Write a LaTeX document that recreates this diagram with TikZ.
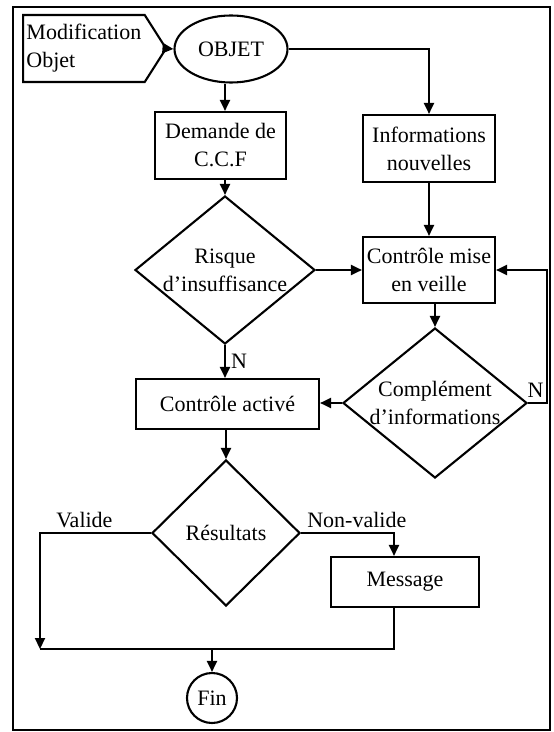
\documentclass[tikz,border=0pt]{standalone}
\usepackage{fontspec}
\setmainfont{Liberation Serif}
\usetikzlibrary{shapes.geometric,shapes.symbols,arrows.meta}

\begin{document}
\begin{tikzpicture}[x=1bp,y=-1bp,>={Triangle[length=11bp,width=10bp]},line width=2.1bp,
    font=\fontsize{22bp}{28bp}\selectfont,
    boite/.style={draw,inner sep=0pt,align=center},
    losange/.style={draw,diamond,inner sep=0pt,align=center}]
  \useasboundingbox (0,0) rectangle (554,732);
  \draw (13,7) rectangle (550,730);
  % premiere ligne
  \node[draw,signal,signal to=east,signal pointer angle=115,minimum width=143bp,minimum height=67bp,inner sep=0pt,align=left,anchor=west] (modif) at (22,48.5) {Modification\\Objet};
  \node[draw,ellipse,minimum width=113bp,minimum height=67bp,inner sep=0pt] (objet) at (231,49) {OBJET};
  \node[boite,minimum width=131bp,minimum height=67bp] (ccf) at (220.5,145.5) {Demande de\\C.C.F};
  \node[boite,minimum width=132bp,minimum height=67bp] (infos) at (429,148.5) {Informations\\nouvelles};
  % controles
  \node[losange,aspect=1.22,minimum width=180bp,minimum height=148bp] (risque) at (225,270) {Risque\\d’insuffisance};
  \node[boite,minimum width=132bp,minimum height=66bp] (veille) at (429,270) {Contrôle mise\\en veille};
  \node[losange,aspect=1.22,inner xsep=-4bp,minimum width=184bp,minimum height=150bp] (complement) at (435,403) {Complément\\d’informations};
  \node[boite,minimum width=183bp,minimum height=50bp] (active) at (227.5,404) {Contrôle activé};
  % resultats
  \node[losange,minimum width=148bp,minimum height=146bp] (resultats) at (226,533) {Résultats};
  \node[boite,minimum width=148bp,minimum height=50bp] (message) at (405,582) {Message};
  \node[draw,circle,minimum size=50bp,inner sep=0pt] (fin) at (212,698) {Fin};
  \coordinate (gauche) at (40,649);
  \coordinate (jonction) at (212,649);

  \draw[->] (modif.east) -- (objet.west);
  \draw[->] (objet.south -| risque.north) -- (ccf.north -| risque.north);
  \draw[->] (objet.east) -| (infos.north);
  \draw[->] (ccf.south -| risque.north) -- (risque.north);
  \draw[->] (infos.south) -- (veille.north);
  \draw[->] (risque.east) -- (risque.east -| veille.west);
  \draw[->] (veille.south -| complement.north) -- (complement.north);
  \draw[->] (complement.east) -- node[above,inner sep=4bp,xshift=-2bp]{N} ++(19,0) |- (veille.east);
  \draw[->] (risque.south) -- node[right,inner sep=5bp]{N} (active.north -| risque.south);
  \draw[->] (complement.west) -- (complement.west -| active.east);
  \draw[->] (active.south -| resultats.north) -- (resultats.north);
  \draw[->] (resultats.west) -| node[pos=0.3,above,inner sep=4bp]{Valide} (gauche);
  \draw[->] (resultats.east) -| node[pos=0.3,above,inner sep=4bp]{Non-valide} ([xshift=-11bp]message.north);
  \draw ([xshift=-11bp]message.south) |- (gauche);
  \draw[->] (jonction) -- (fin.north);
\end{tikzpicture}
\end{document}
